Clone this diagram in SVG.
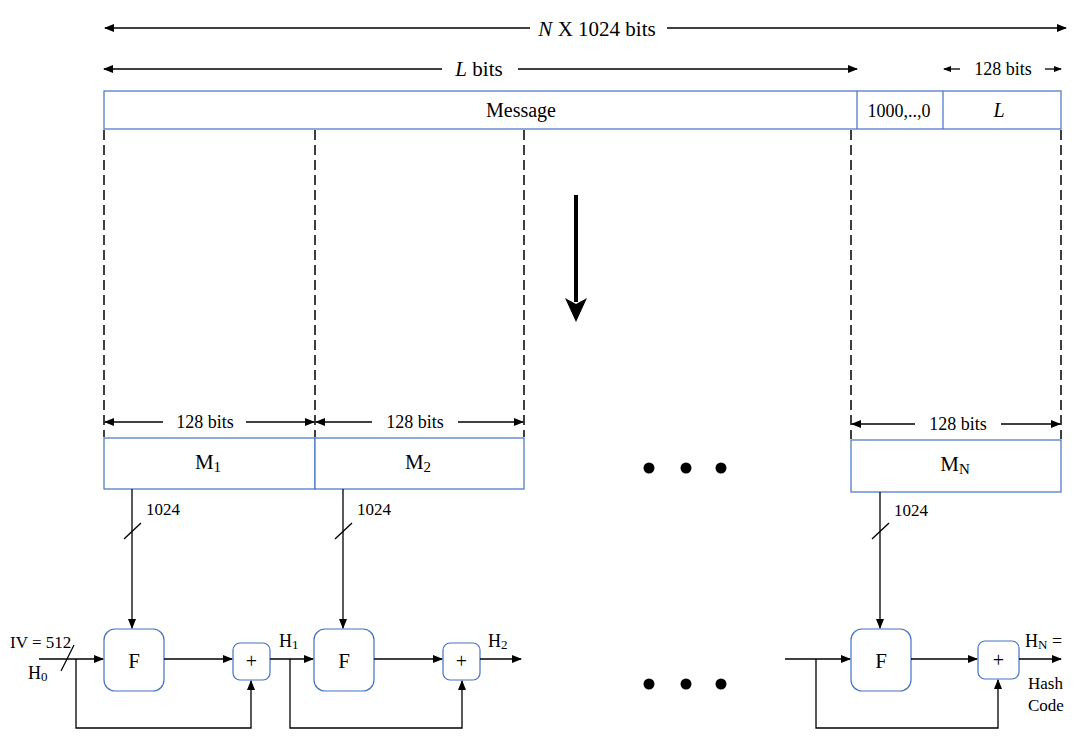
<svg xmlns="http://www.w3.org/2000/svg" width="1092" height="746" viewBox="0 0 1092 746">
<defs>
<marker id="ah" markerWidth="10" markerHeight="8" refX="9" refY="4" orient="auto" markerUnits="userSpaceOnUse"><path d="M0,0 L10,4 L0,8 Z" fill="#000"/></marker>
<marker id="ahs" markerWidth="8" markerHeight="6" refX="7" refY="3" orient="auto" markerUnits="userSpaceOnUse"><path d="M0,0 L8,3 L0,6 Z" fill="#000"/></marker>
<marker id="big" markerWidth="24" markerHeight="22" refX="4" refY="11" orient="auto" markerUnits="userSpaceOnUse"><path d="M0,0 L6,11 L0,22 L24,11 Z" fill="#000"/></marker>
<style>
text{font-family:"Liberation Serif","Times New Roman",serif;fill:#000}
.t21{font-size:21px}
.t20{font-size:20px}
.t18{font-size:18px}
.t17{font-size:17px}
.box{fill:#fff;stroke:#4472C4;stroke-width:1.2}
.rb{fill:#fff;stroke:#4472C4;stroke-width:1.2}
.ln{fill:none;stroke:#000;stroke-width:1.3}
.dash{fill:none;stroke:#000;stroke-width:1.5;stroke-dasharray:10,5}
</style>
</defs>

<g id="dimensions">
<line class="ln" x1="530" y1="28" x2="105" y2="28" marker-end="url(#ah)"/>
<line class="ln" x1="667" y1="28" x2="1066" y2="28" marker-end="url(#ah)"/>
<text class="t21" x="597" y="36" text-anchor="middle"><tspan font-style="italic">N</tspan> X 1024 bits</text>
<line class="ln" x1="442" y1="69" x2="104" y2="69" marker-end="url(#ah)"/>
<line class="ln" x1="518" y1="69" x2="857" y2="69" marker-end="url(#ah)"/>
<text class="t21" x="479" y="76" text-anchor="middle"><tspan font-style="italic">L</tspan> bits</text>
<line class="ln" x1="960" y1="69" x2="944" y2="69" marker-end="url(#ahs)"/>
<line class="ln" x1="1045" y1="69" x2="1061" y2="69" marker-end="url(#ahs)"/>
<text class="t18" x="1003" y="75" text-anchor="middle">128 bits</text>
</g>

<g id="message">
<rect class="box" x="104" y="91" width="957" height="38"/>
<line class="box" x1="857" y1="91" x2="857" y2="129"/>
<line class="box" x1="943" y1="91" x2="943" y2="129"/>
<text class="t20" x="521" y="117" text-anchor="middle">Message</text>
<text class="t18" x="899" y="117" text-anchor="middle">1000,..,0</text>
<text class="t20" x="999" y="117" text-anchor="middle" font-style="italic">L</text>
</g>

<g id="split-lines">
<line class="dash" x1="104" y1="130" x2="104" y2="437"/>
<line class="dash" x1="315" y1="130" x2="315" y2="437"/>
<line class="dash" x1="524" y1="130" x2="524" y2="437"/>
<line class="dash" x1="851" y1="130" x2="851" y2="439"/>
<line class="dash" x1="1061" y1="130" x2="1061" y2="439"/>
<line x1="576" y1="195" x2="576" y2="302" stroke="#000" stroke-width="4" marker-end="url(#big)"/>
</g>

<g id="block-dims">
<line class="ln" x1="163" y1="422" x2="105" y2="422" marker-end="url(#ah)"/>
<line class="ln" x1="246" y1="422" x2="314" y2="422" marker-end="url(#ah)"/>
<text class="t18" x="205" y="428" text-anchor="middle">128 bits</text>
<line class="ln" x1="372" y1="422" x2="316" y2="422" marker-end="url(#ah)"/>
<line class="ln" x1="458" y1="422" x2="523" y2="422" marker-end="url(#ah)"/>
<text class="t18" x="415" y="428" text-anchor="middle">128 bits</text>
<line class="ln" x1="915" y1="424" x2="852" y2="424" marker-end="url(#ah)"/>
<line class="ln" x1="1001" y1="424" x2="1060" y2="424" marker-end="url(#ah)"/>
<text class="t18" x="958" y="430" text-anchor="middle">128 bits</text>
</g>

<g id="M1"><rect class="box" x="104" y="438" width="211" height="51"/><text class="t21" x="208" y="469" text-anchor="middle">M<tspan font-size="15" dy="3">1</tspan></text></g>
<g id="M2"><rect class="box" x="315" y="438" width="209" height="51"/><text class="t21" x="418" y="469" text-anchor="middle">M<tspan font-size="15" dy="3">2</tspan></text></g>
<g id="MN"><rect class="box" x="851" y="440" width="210" height="52"/><text class="t21" x="955" y="471" text-anchor="middle">M<tspan font-size="15" dy="3">N</tspan></text></g>

<g id="dots">
<circle cx="649" cy="468" r="5.5"/><circle cx="686" cy="468" r="5.5"/><circle cx="721" cy="468" r="5.5"/>
<circle cx="649" cy="684" r="5.5"/><circle cx="686" cy="684" r="5.5"/><circle cx="721" cy="684" r="5.5"/>
</g>

<g id="F1"><rect class="rb" x="104" y="629" width="60" height="62" rx="11"/><text class="t21" x="134" y="668" text-anchor="middle">F</text></g>
<g id="F2"><rect class="rb" x="314" y="629" width="60" height="62" rx="11"/><text class="t21" x="344" y="668" text-anchor="middle">F</text></g>
<g id="F3"><rect class="rb" x="851" y="629" width="60" height="62" rx="11"/><text class="t21" x="881" y="668" text-anchor="middle">F</text></g>
<g id="P1"><rect class="rb" x="233" y="643" width="37" height="37" rx="7"/><text class="t20" x="251.5" y="668" text-anchor="middle">+</text></g>
<g id="P2"><rect class="rb" x="443" y="643" width="37" height="37" rx="7"/><text class="t20" x="461.5" y="668" text-anchor="middle">+</text></g>
<g id="P3"><rect class="rb" x="978" y="641" width="41" height="38" rx="7"/><text class="t20" x="998.5" y="667" text-anchor="middle">+</text></g>

<g id="connectors">
<line class="ln" x1="132" y1="489" x2="132" y2="628" marker-end="url(#ah)"/>
<line class="ln" x1="124" y1="539" x2="141" y2="523"/>
<line class="ln" x1="343" y1="489" x2="343" y2="628" marker-end="url(#ah)"/>
<line class="ln" x1="335" y1="539" x2="352" y2="523"/>
<line class="ln" x1="880" y1="492" x2="880" y2="628" marker-end="url(#ah)"/>
<line class="ln" x1="872" y1="539" x2="889" y2="523"/>

<line class="ln" x1="39" y1="659" x2="103" y2="659" marker-end="url(#ah)"/>
<line class="ln" x1="61" y1="671" x2="74" y2="645"/>
<polyline class="ln" points="76,659 76,728 251,728 251,681" marker-end="url(#ah)"/>
<line class="ln" x1="164" y1="659" x2="232" y2="659" marker-end="url(#ah)"/>
<line class="ln" x1="270" y1="659" x2="313" y2="659" marker-end="url(#ah)"/>
<polyline class="ln" points="290,659 290,728 462,728 462,681" marker-end="url(#ah)"/>
<line class="ln" x1="374" y1="659" x2="442" y2="659" marker-end="url(#ah)"/>
<line class="ln" x1="480" y1="659" x2="521" y2="659" marker-end="url(#ah)"/>

<line class="ln" x1="785" y1="659" x2="850" y2="659" marker-end="url(#ah)"/>
<polyline class="ln" points="816,659 816,728 998,728 998,680" marker-end="url(#ah)"/>
<line class="ln" x1="911" y1="659" x2="977" y2="659" marker-end="url(#ah)"/>
<line class="ln" x1="1019" y1="659" x2="1061" y2="659" marker-end="url(#ah)"/>
</g>

<g id="labels">
<text class="t17" x="146" y="515">1024</text>
<text class="t17" x="357" y="515">1024</text>
<text class="t17" x="894" y="516">1024</text>
<text class="t17" x="10" y="648">IV = 512</text>
<text class="t18" x="28" y="679">H<tspan font-size="13" dy="2">0</tspan></text>
<text class="t18" x="279" y="647">H<tspan font-size="13" dy="2">1</tspan></text>
<text class="t18" x="488" y="647">H<tspan font-size="13" dy="2">2</tspan></text>
<text class="t18" x="1025" y="647">H<tspan font-size="13" dy="2">N</tspan><tspan dy="-2"> =</tspan></text>
<text class="t17" x="1028" y="689">Hash</text>
<text class="t17" x="1028" y="711">Code</text>
</g>
</svg>
